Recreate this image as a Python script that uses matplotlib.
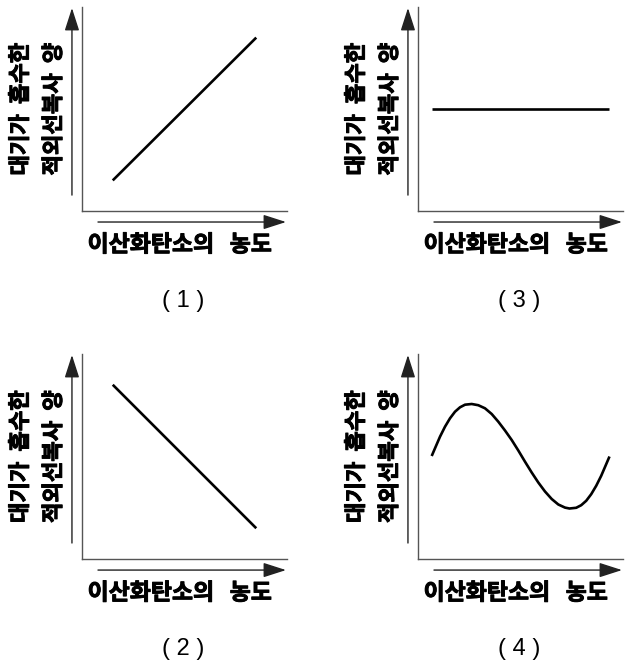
import matplotlib.pyplot as plt
import matplotlib.patheffects as pe

plt.rcParams['font.family'] = ['Noto Sans CJK KR', 'DejaVu Sans']

# ==============================
# DATOS (ejes 0-10)
# ==============================
y_label_top = "대기가  흡수한"
y_label_bottom = "적외선복사  양"
x_label = "이산화탄소의   농도"

# (1) sube
g1_x = [1.5, 8.5]
g1_y = [1.5, 8.5]

# (2) baja
g2_x = [1.5, 8.5]
g2_y = [8.5, 1.5]

# (3) constante
g3_x = [0.7, 9.3]
g3_y = [5.0, 5.0]

# (4) oscila
g4_x = [0.668, 0.829, 1.073, 1.317, 1.561, 1.805, 2.049, 2.293, 2.620, 2.941,
        3.268, 3.595, 3.917, 4.244, 4.571, 4.893, 5.220, 5.546, 5.868, 6.195,
        6.522, 6.844, 7.171, 7.390, 7.717, 7.961, 8.205, 8.449, 8.693, 8.937,
        9.180, 9.341]
g4_y = [5.024, 5.400, 5.966, 6.454, 6.863, 7.185, 7.400, 7.527, 7.561, 7.502,
        7.351, 7.073, 6.698, 6.268, 5.805, 5.293, 4.746, 4.220, 3.732, 3.293,
        2.927, 2.659, 2.507, 2.463, 2.498, 2.624, 2.839, 3.161, 3.571, 4.059,
        4.624, 5.000]

W, H = 629, 667
fig = plt.figure(figsize=(W / 100, H / 100), dpi=100)


def px_axes(left, top, right, bottom):
    return fig.add_axes([left / W, 1 - bottom / H, (right - left) / W, (bottom - top) / H])


panels = [
    ("( 1 )", g1_x, g1_y, (82, 7, 287, 211)),
    ("( 3 )", g3_x, g3_y, (418, 7, 623, 211)),
    ("( 2 )", g2_x, g2_y, (82, 354, 287, 559)),
    ("( 4 )", g4_x, g4_y, (418, 354, 623, 559)),
]

heavy = [pe.withStroke(linewidth=0.7, foreground="black")]

for tag, xs, ys, rect in panels:
    ax = px_axes(*rect)
    ax.set_xlim(0, 10)
    ax.set_ylim(0, 10)
    ax.plot(xs, ys, color="black", lw=1.9, solid_capstyle="butt",
            solid_joinstyle="round")

    for s in ["top", "right"]:
        ax.spines[s].set_visible(False)
    for s in ["left", "bottom"]:
        ax.spines[s].set_color("#555555")
        ax.spines[s].set_linewidth(1.0)
    ax.set_xticks([])
    ax.set_yticks([])

    arrow = dict(arrowstyle="-|>,head_length=1.4,head_width=0.45",
                 mutation_scale=10, color="#222222", lw=1.0, shrinkA=0, shrinkB=0)
    ax.annotate("", xy=(-0.49, 9.95), xytext=(-0.49, 0.78), arrowprops=arrow,
                annotation_clip=False)
    ax.annotate("", xy=(9.95, -0.54), xytext=(0.78, -0.54), arrowprops=arrow,
                annotation_clip=False)

    ax.text(-3.0, 5.0, y_label_top, rotation=90, ha="center", va="center",
            fontsize=16, fontweight="bold", path_effects=heavy, clip_on=False)
    ax.text(-1.38, 5.0, y_label_bottom, rotation=90, ha="center", va="center",
            fontsize=16, fontweight="bold", path_effects=heavy, clip_on=False)
    ax.text(4.78, -1.67, x_label, ha="center", va="center",
            fontsize=16.5, fontweight="bold", path_effects=heavy, clip_on=False)
    ax.text(4.93, -4.4, tag, ha="center", va="center", fontsize=17,
            family=["Liberation Sans", "DejaVu Sans"], clip_on=False)

plt.savefig("out.png", dpi=100)
